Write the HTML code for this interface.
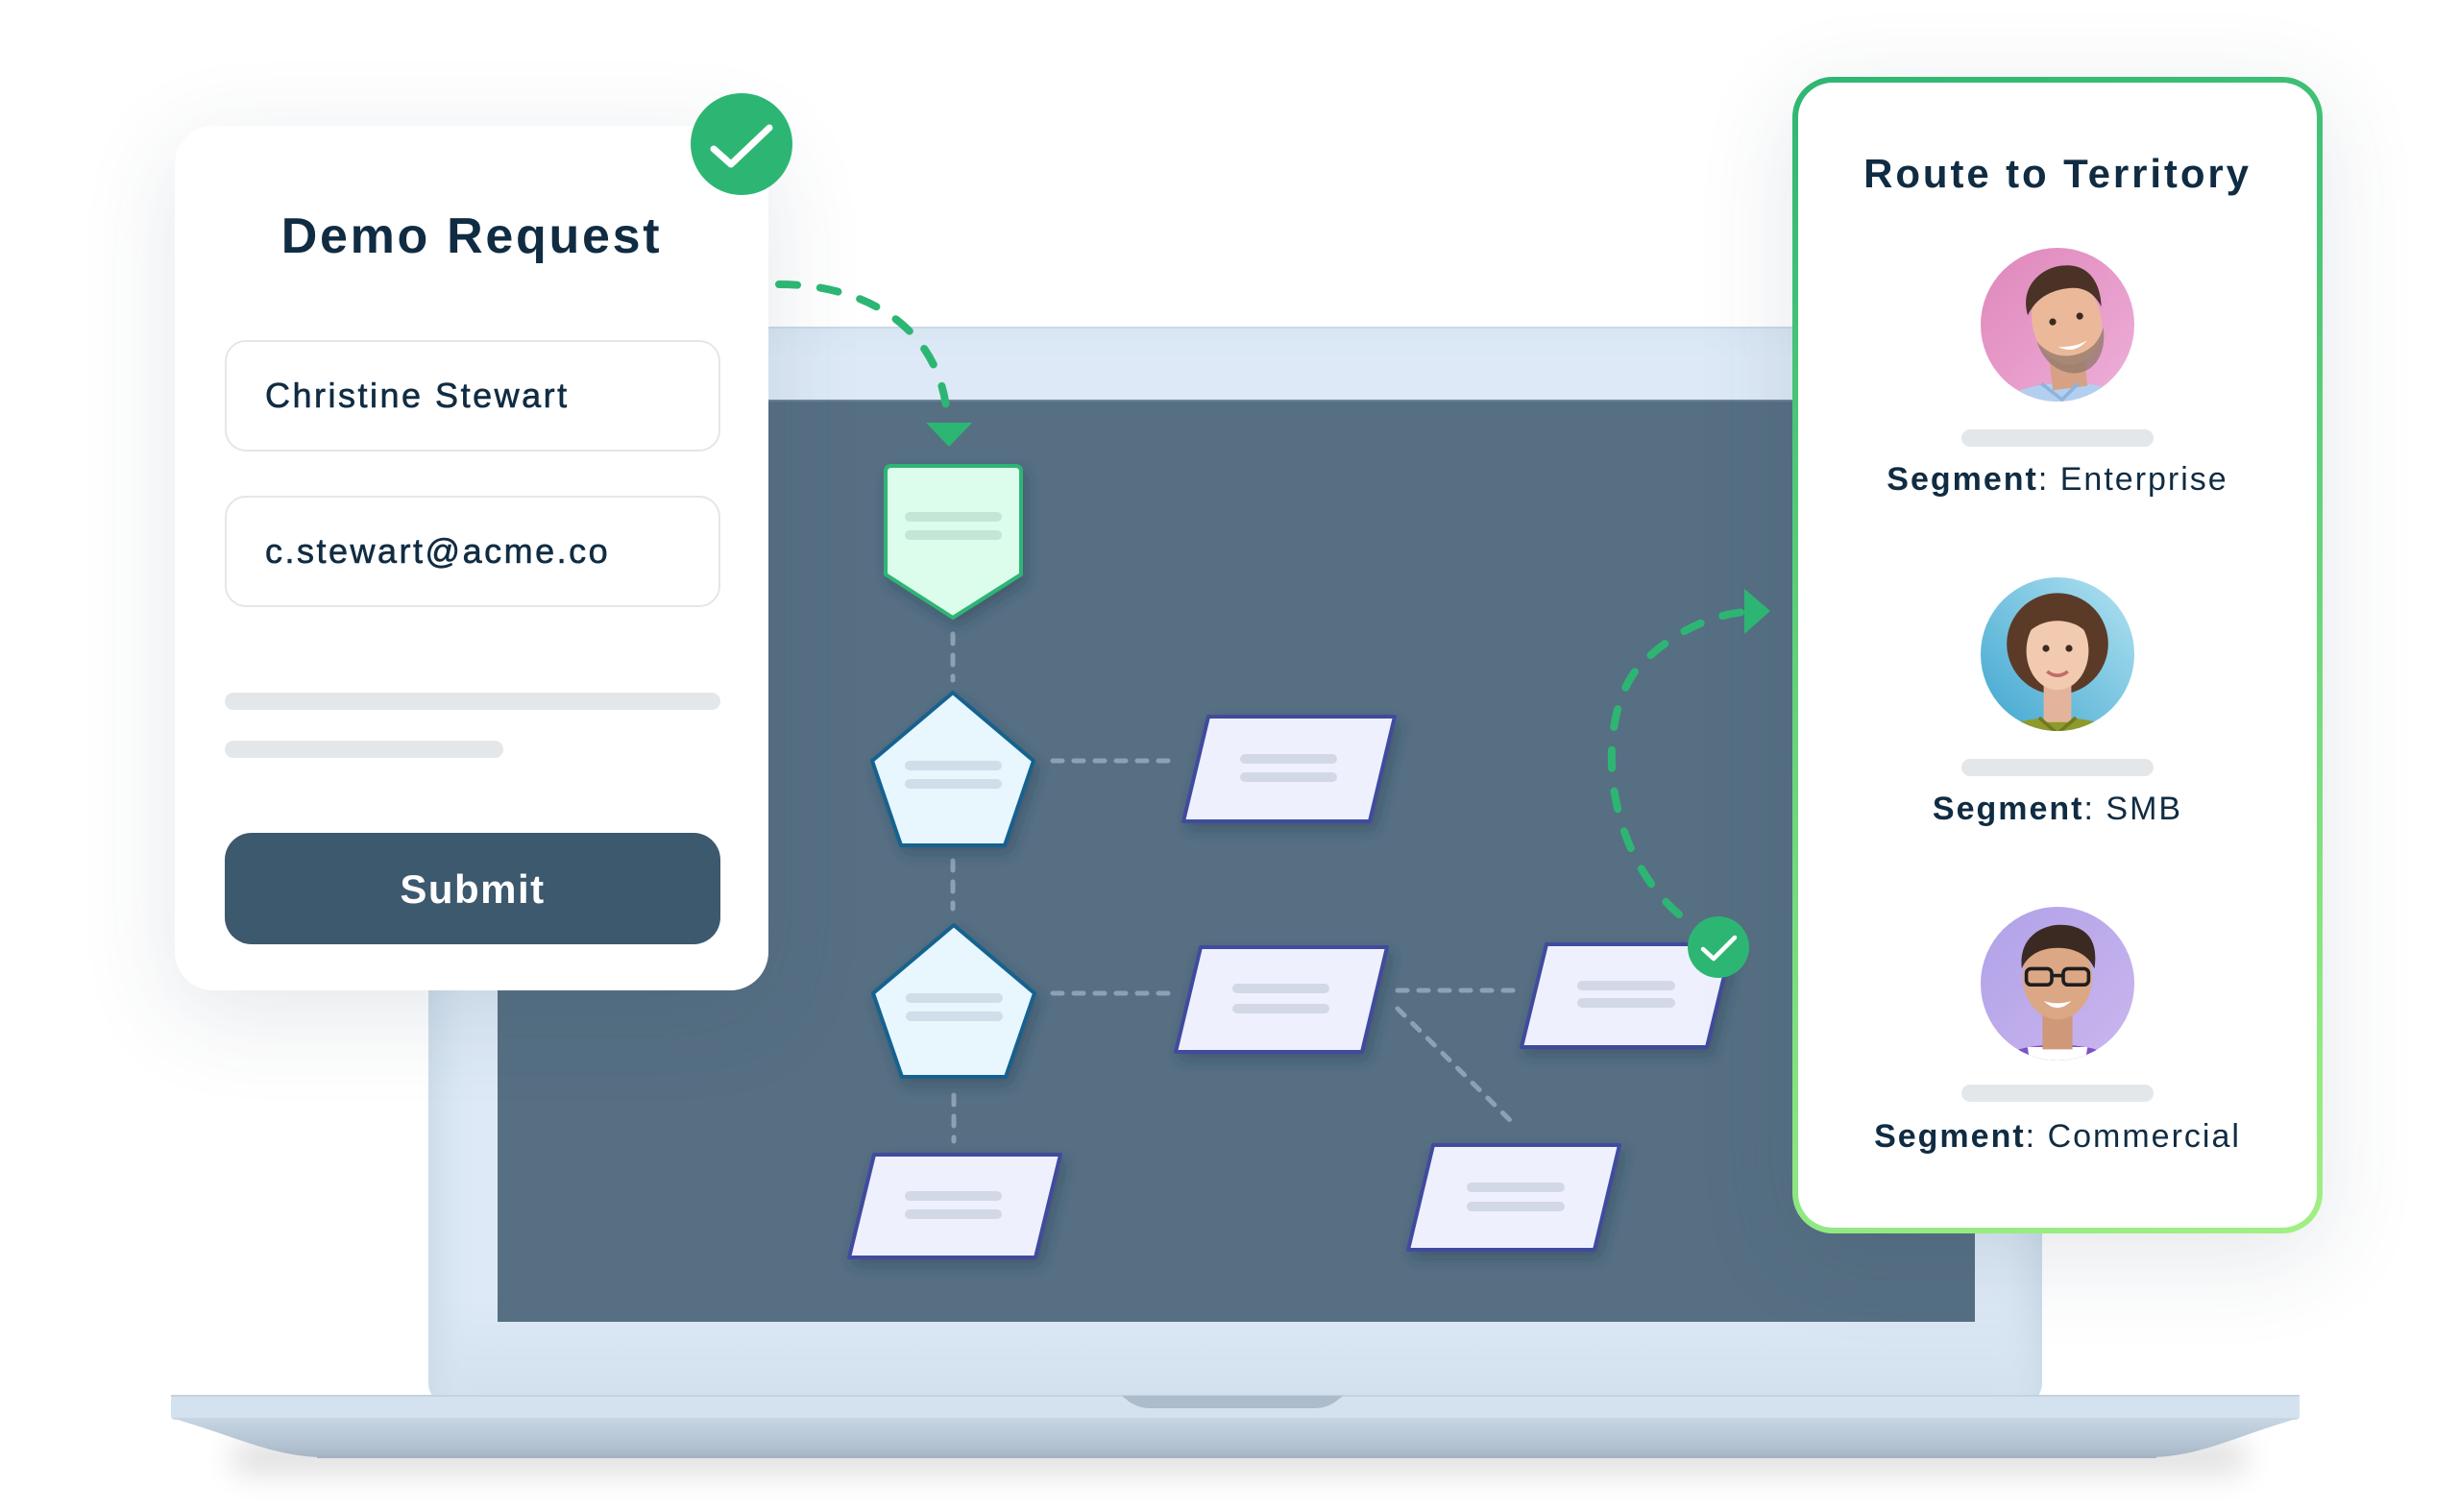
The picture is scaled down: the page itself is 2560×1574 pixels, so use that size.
<!DOCTYPE html>
<html>
<head>
<meta charset="utf-8">
<style>
  html,body{margin:0;padding:0;background:#fff;}
  body{width:2560px;height:1574px;position:relative;overflow:hidden;font-family:"Liberation Sans",Arial,sans-serif;color:#102c43;}
  .abs{position:absolute;}
  .card{position:absolute;background:#fff;box-shadow:0 24px 100px rgba(50,70,95,0.13);}
  .input{position:absolute;left:234px;width:512px;height:112px;border:2px solid #e3e6ea;border-radius:22px;background:#fff;}
  .itext{position:absolute;left:276px;font-size:36px;line-height:36px;letter-spacing:2.5px;color:#102c43;-webkit-text-stroke:0.6px #102c43;white-space:nowrap;}
  .bar{position:absolute;background:#e4e7ea;border-radius:9px;}
  .lbl{position:absolute;left:1866px;width:552px;text-align:center;font-size:34px;line-height:34px;letter-spacing:2px;white-space:nowrap;color:#102c43;}
  .lbl b{font-weight:700;}
</style>
</head>
<body>

<!-- Laptop + flow diagram -->
<svg class="abs" style="left:0;top:0;z-index:1" width="2560" height="1574" viewBox="0 0 2560 1574">
  <defs>
    <filter id="blurS" x="-20%" y="-200%" width="140%" height="500%">
      <feGaussianBlur stdDeviation="16"/>
    </filter>
    <filter id="nodeSh" x="-30%" y="-30%" width="160%" height="170%">
      <feDropShadow dx="4" dy="7" stdDeviation="7" flood-color="#24384a" flood-opacity="0.35"/>
    </filter>
    <linearGradient id="bezel" x1="0" y1="0" x2="0" y2="1">
      <stop offset="0" stop-color="#d8e5f3"/>
      <stop offset="0.03" stop-color="#dde9f6"/>
      <stop offset="0.9" stop-color="#dde9f6"/>
      <stop offset="1" stop-color="#d1dfec"/>
    </linearGradient>
    <linearGradient id="bezelSide" x1="0" y1="0" x2="1" y2="0">
      <stop offset="0" stop-color="#cddcea"/>
      <stop offset="0.03" stop-color="#d9e6f3" stop-opacity="0"/>
      <stop offset="0.97" stop-color="#d9e6f3" stop-opacity="0"/>
      <stop offset="1" stop-color="#cddcea"/>
    </linearGradient>
    <linearGradient id="baseLow" x1="0" y1="0" x2="0" y2="1">
      <stop offset="0" stop-color="#c7d6e3"/>
      <stop offset="0.7" stop-color="#b3c2d1"/>
      <stop offset="1" stop-color="#a6b5c5"/>
    </linearGradient>
  </defs>

  <!-- shadow under laptop -->
  <rect x="240" y="1500" width="2100" height="34" rx="17" fill="#000" opacity="0.13" filter="url(#blurS)"/>

  <!-- bezel -->
  <rect x="446" y="340" width="1680" height="1125" rx="26" fill="url(#bezel)"/>
  <rect x="446" y="340" width="1680" height="1125" rx="26" fill="url(#bezelSide)"/>
  <rect x="446" y="340" width="1680" height="2" fill="#cbd8e6"/>
  <!-- screen -->
  <rect x="518" y="416" width="1538" height="960" fill="#566f83"/>
  <rect x="518" y="416" width="1538" height="2" fill="#6d8497"/>

  <!-- base -->
  <rect x="178" y="1452" width="2216" height="26" rx="4" fill="#d4e2ef"/>
  <rect x="178" y="1452" width="2216" height="2" fill="#c4d2e0"/>
  <path d="M178 1476 L2394 1476 C2330 1494 2292 1516 2240 1517 L335 1517 C283 1516 242 1494 178 1476 Z" fill="url(#baseLow)"/>
  <rect x="330" y="1515" width="1915" height="3" fill="#a5b3c2"/>
  <!-- notch -->
  <path d="M1168 1453 L1398 1453 C1388 1462 1380 1466 1368 1466 L1198 1466 C1186 1466 1178 1462 1168 1453 Z" fill="#adbccb"/>

  <!-- connectors -->
  <g stroke="#8ca2b3" stroke-width="5" stroke-dasharray="10 12" stroke-linecap="round" fill="none">
    <line x1="992" y1="660" x2="992" y2="708"/>
    <line x1="1096" y1="792" x2="1226" y2="792"/>
    <line x1="992" y1="896" x2="992" y2="946"/>
    <line x1="1096" y1="1034" x2="1220" y2="1034"/>
    <line x1="993" y1="1140" x2="993" y2="1188"/>
    <line x1="1455" y1="1031" x2="1578" y2="1031"/>
    <line x1="1455" y1="1050" x2="1578" y2="1172"/>
  </g>

  <!-- nodes -->
  <g filter="url(#nodeSh)" stroke-linejoin="round" stroke-width="4">
    <path d="M928 485 L1057 485 Q1063 485 1063 491 L1063 598 L992 643 L922 598 L922 491 Q922 485 928 485 Z" fill="#dcfcec" stroke="#2fb574"/>
    <polygon points="992,721 1076,792 1046,880 938,880 908,792" fill="#e8f6fd" stroke="#15628f"/>
    <polygon points="993,963 1077,1034 1047,1121 939,1121 909,1034" fill="#e8f6fd" stroke="#15628f"/>
    <polygon points="1258,746 1452,746 1426,855 1232,855" fill="#eef0fd" stroke="#3f4c9e"/>
    <polygon points="1250,986 1444,986 1418,1095 1224,1095" fill="#eef0fd" stroke="#3f4c9e"/>
    <polygon points="1610,983 1803,983 1777,1090 1584,1090" fill="#eef0fd" stroke="#3f4c9e"/>
    <polygon points="910,1202 1104,1202 1078,1309 884,1309" fill="#eef0fd" stroke="#3f4c9e"/>
    <polygon points="1492,1192 1686,1192 1660,1301 1466,1301" fill="#eef0fd" stroke="#3f4c9e"/>
  </g>

  <!-- bars inside nodes -->
  <g>
    <rect x="942" y="533" width="101" height="10" rx="5" fill="#c4e6d6"/>
    <rect x="942" y="552" width="101" height="10" rx="5" fill="#c4e6d6"/>
    <rect x="942" y="792" width="101" height="10" rx="5" fill="#cfdee8"/>
    <rect x="942" y="811" width="101" height="10" rx="5" fill="#cfdee8"/>
    <rect x="943" y="1034" width="101" height="10" rx="5" fill="#cfdee8"/>
    <rect x="943" y="1053" width="101" height="10" rx="5" fill="#cfdee8"/>
    <rect x="1291" y="785" width="101" height="10" rx="5" fill="#d3d8e6"/>
    <rect x="1291" y="804" width="101" height="10" rx="5" fill="#d3d8e6"/>
    <rect x="1283" y="1024" width="101" height="10" rx="5" fill="#d3d8e6"/>
    <rect x="1283" y="1045" width="101" height="10" rx="5" fill="#d3d8e6"/>
    <rect x="1642" y="1021" width="102" height="10" rx="5" fill="#d3d8e6"/>
    <rect x="1642" y="1039" width="102" height="10" rx="5" fill="#d3d8e6"/>
    <rect x="942" y="1240" width="101" height="10" rx="5" fill="#d3d8e6"/>
    <rect x="942" y="1259" width="101" height="10" rx="5" fill="#d3d8e6"/>
    <rect x="1527" y="1231" width="102" height="10" rx="5" fill="#d3d8e6"/>
    <rect x="1527" y="1251" width="102" height="10" rx="5" fill="#d3d8e6"/>
  </g>
</svg>

<!-- Demo Request card -->
<div class="card" style="left:182px;top:131px;width:618px;height:900px;border-radius:40px;z-index:2;"></div>
<div class="abs" style="z-index:3;left:182px;top:220px;width:618px;text-align:center;font-size:52px;line-height:52px;font-weight:700;letter-spacing:2.7px;color:#102c43;white-space:nowrap;">Demo Request</div>
<div class="input" style="top:354px;z-index:3;"></div>
<div class="itext" style="top:394px;z-index:4;">Christine Stewart</div>
<div class="input" style="top:516px;z-index:3;"></div>
<div class="itext" style="top:556px;z-index:4;">c.stewart@acme.co</div>
<div class="bar" style="left:234px;top:721px;width:516px;height:18px;z-index:3;"></div>
<div class="bar" style="left:234px;top:771px;width:290px;height:18px;z-index:3;"></div>
<div class="abs" style="z-index:3;left:234px;top:867px;width:516px;height:116px;background:#3c596d;border-radius:28px;"></div>
<div class="abs" style="z-index:4;left:234px;top:905px;width:516px;text-align:center;color:#fff;font-size:42px;line-height:42px;font-weight:700;letter-spacing:1.5px;">Submit</div>

<!-- Route to Territory card -->
<div class="card" style="left:1866px;top:80px;width:552px;height:1204px;border-radius:42px;z-index:2;background:linear-gradient(#fff,#fff) padding-box,linear-gradient(160deg,#2db673 0%,#62d27a 45%,#a2f084 100%) border-box;border:6px solid transparent;box-sizing:border-box;"></div>
<div class="abs" style="z-index:3;left:1866px;top:160px;width:552px;text-align:center;font-size:42px;line-height:42px;font-weight:700;letter-spacing:2.9px;color:#102c43;white-space:nowrap;">Route to Territory</div>

<div class="bar" style="left:2042px;top:447px;width:200px;height:18px;z-index:3;"></div>
<div class="bar" style="left:2042px;top:790px;width:200px;height:18px;z-index:3;"></div>
<div class="bar" style="left:2042px;top:1129px;width:200px;height:18px;z-index:3;"></div>

<div class="lbl" style="top:482px;z-index:3;"><b>Segment</b>: Enterprise</div>
<div class="lbl" style="top:825px;z-index:3;"><b>Segment</b>: SMB</div>
<div class="lbl" style="top:1166px;z-index:3;"><b>Segment</b>: Commercial</div>

<!-- overlay: avatars, arrows, checks -->
<svg class="abs" style="left:0;top:0;z-index:5" width="2560" height="1574" viewBox="0 0 2560 1574">
  <defs>
    <clipPath id="circ"><circle cx="0" cy="0" r="80"/></clipPath>
    <linearGradient id="gPink" x1="0" y1="0" x2="1" y2="1">
      <stop offset="0" stop-color="#df86bb"/><stop offset="1" stop-color="#eeb0d9"/>
    </linearGradient>
    <linearGradient id="gBlue" x1="0" y1="1" x2="1" y2="0">
      <stop offset="0" stop-color="#3fa6cf"/><stop offset="1" stop-color="#b3e3f2"/>
    </linearGradient>
    <linearGradient id="gPurp" x1="0" y1="0" x2="1" y2="1">
      <stop offset="0" stop-color="#b0a1e8"/><stop offset="1" stop-color="#cbb6ee"/>
    </linearGradient>
  </defs>

  <!-- Avatar 1 -->
  <g transform="translate(2142,338)">
    <g clip-path="url(#circ)">
      <rect x="-80" y="-80" width="160" height="160" fill="url(#gPink)"/>
      <g transform="translate(0,6) scale(1.2)">
        <path d="M-70 85 C-55 55 -25 46 5 46 C35 44 60 52 78 72 L80 90 L-80 90 Z" fill="#b3cff0"/>
        <path d="M-8 18 L22 14 L26 48 L-4 52 Z" fill="#d7a186"/>
        <g transform="rotate(-12 8 -8)">
          <ellipse cx="8" cy="-8" rx="30" ry="38" fill="#ebb99a"/>
          <path d="M-21 4 C-18 30 0 38 10 38 C24 38 36 26 38 4 C30 18 20 22 8 22 C-4 22 -14 16 -21 4 Z" fill="#8f7868" opacity="0.75"/>
          <path d="M-24 -20 C-26 -46 -4 -58 14 -56 C36 -54 44 -36 40 -14 C36 -28 28 -36 10 -36 C-6 -36 -16 -30 -24 -20 Z" fill="#4a3226"/>
          <circle cx="-4" cy="-10" r="3" fill="#3a2a22"/>
          <circle cx="20" cy="-10" r="3" fill="#3a2a22"/>
          <path d="M-4 12 Q8 22 22 12 Q8 16 -4 12 Z" fill="#fff"/>
        </g>
        <path d="M-14 46 L4 60 L18 46" fill="none" stroke="#8fb3de" stroke-width="3"/>
      </g>
    </g>
  </g>

  <!-- Avatar 2 -->
  <g transform="translate(2142,681)">
    <g clip-path="url(#circ)">
      <rect x="-80" y="-80" width="160" height="160" fill="url(#gBlue)"/>
      <g transform="translate(0,6) scale(1.2)">
        <ellipse cx="0" cy="-14" rx="44" ry="44" fill="#5b3b27"/>
        <path d="M-75 90 C-65 60 -35 50 0 50 C35 50 65 60 75 90 Z" fill="#8e9a2b"/>
        <rect x="-12" y="16" width="24" height="38" fill="#e3b49b"/>
        <ellipse cx="0" cy="-8" rx="27" ry="34" fill="#f1caaf"/>
        <path d="M-30 -18 C-28 -44 -10 -50 2 -50 C20 -50 32 -40 30 -16 C24 -30 10 -34 0 -34 C-12 -34 -24 -28 -30 -18 Z" fill="#5b3b27"/>
        <circle cx="-10" cy="-10" r="3" fill="#3a2a22"/>
        <circle cx="10" cy="-10" r="3" fill="#3a2a22"/>
        <path d="M-9 10 Q0 17 9 10" fill="none" stroke="#c46a6a" stroke-width="3"/>
        <path d="M-16 50 L0 64 L16 50" fill="none" stroke="#6f7a1f" stroke-width="3"/>
      </g>
    </g>
  </g>

  <!-- Avatar 3 -->
  <g transform="translate(2142,1024)">
    <g clip-path="url(#circ)">
      <rect x="-80" y="-80" width="160" height="160" fill="url(#gPurp)"/>
      <g transform="translate(0,6) scale(1.2)">
        <path d="M-78 90 C-65 58 -35 48 0 48 C35 48 65 58 78 90 Z" fill="#7b52c9"/>
        <path d="M-26 50 L26 50 L20 90 L-20 90 Z" fill="#ffffff"/>
        <rect x="-13" y="14" width="26" height="38" fill="#cf9878"/>
        <ellipse cx="0" cy="-10" rx="30" ry="36" fill="#dca785"/>
        <path d="M-31 -18 C-34 -48 -10 -56 2 -56 C24 -56 36 -44 32 -18 C26 -32 12 -36 0 -36 C-14 -36 -26 -30 -31 -18 Z" fill="#3a2a22"/>
        <rect x="-27" y="-18" width="22" height="14" rx="4" fill="none" stroke="#1e1e1e" stroke-width="3"/>
        <rect x="5" y="-18" width="22" height="14" rx="4" fill="none" stroke="#1e1e1e" stroke-width="3"/>
        <line x1="-5" y1="-12" x2="5" y2="-12" stroke="#1e1e1e" stroke-width="3"/>
        <path d="M-12 10 Q0 22 12 10 Q0 14 -12 10 Z" fill="#fff"/>
      </g>
    </g>
  </g>

  <!-- green dashed arrow 1 -->
  <path d="M811 296 C900 296 978 340 986 432" fill="none" stroke="#2db673" stroke-width="8" stroke-linecap="round" stroke-dasharray="19 24"/>
  <polygon points="964,440 1012,440 988,465" fill="#2db673"/>

  <!-- green dashed arrow 2 -->
  <path d="M1748 952 C1665 880 1660 740 1710 690 C1745 655 1785 640 1816 637" fill="none" stroke="#2db673" stroke-width="8" stroke-linecap="round" stroke-dasharray="19 24"/>
  <polygon points="1816,613 1843,636 1816,660" fill="#2db673"/>

  <!-- check circles -->
  <circle cx="772" cy="150" r="53" fill="#2db673"/>
  <polyline points="743,155 761,171 801,133" fill="none" stroke="#fff" stroke-width="7" stroke-linecap="round" stroke-linejoin="round"/>
  <circle cx="1789" cy="986" r="32" fill="#2db673"/>
  <polyline points="1773,988 1784,998 1806,976" fill="none" stroke="#fff" stroke-width="4.5" stroke-linecap="round" stroke-linejoin="round"/>
</svg>

</body>
</html>
